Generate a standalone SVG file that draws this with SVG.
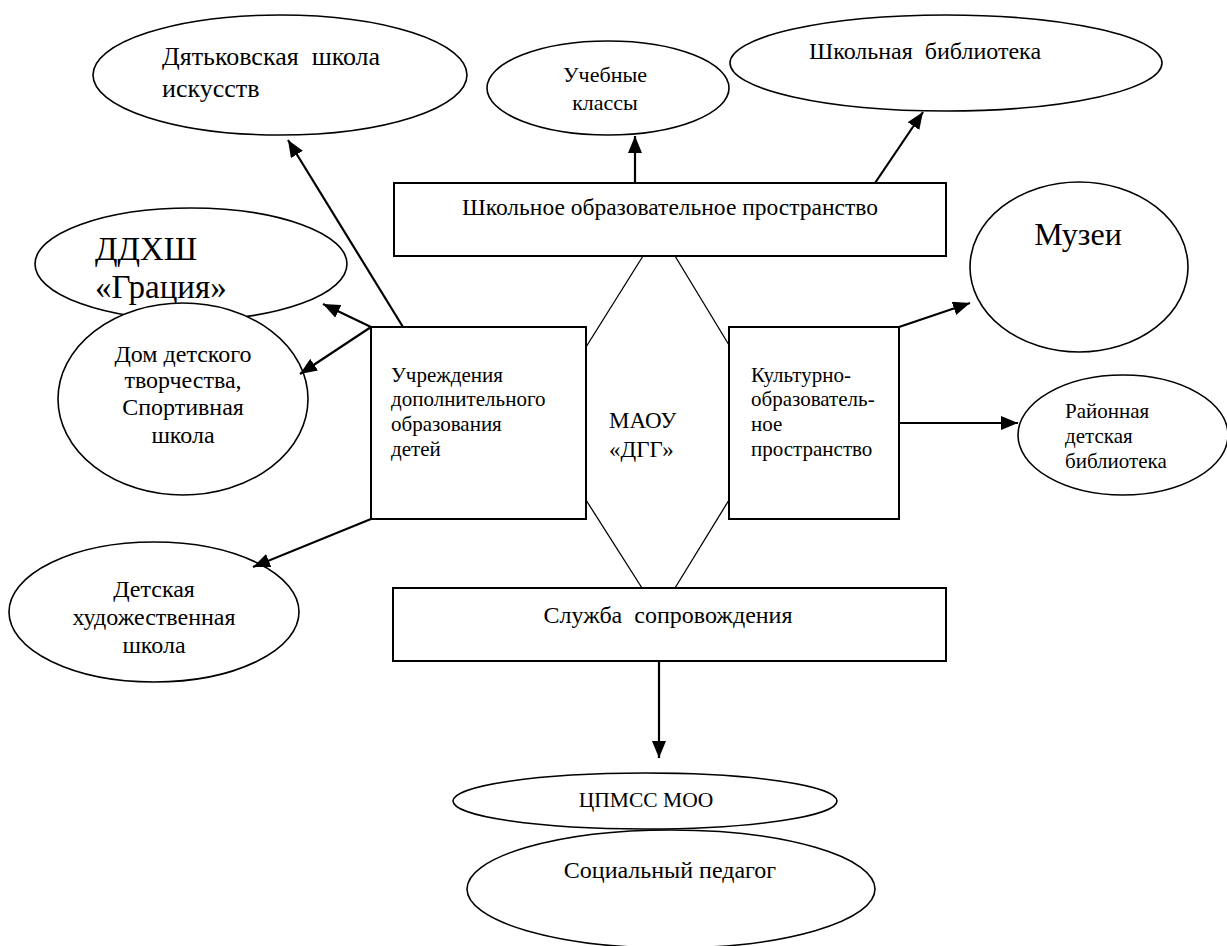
<svg xmlns="http://www.w3.org/2000/svg" width="1227" height="946" viewBox="0 0 1227 946">
<style>
  .el { fill: #fff; stroke: #000; stroke-width: 1.6; }
  .bx { fill: #fff; stroke: #000; stroke-width: 2; }
  .t { font-family: 'Liberation Serif', 'DejaVu Serif', serif; fill: #000; white-space: pre; }
  .arr { stroke: #000; stroke-width: 2.2; fill: none; marker-end: url(#ah); }
  .hex { stroke: #000; stroke-width: 1.3; fill: none; }
</style>
<defs>
  <marker id="ah" markerUnits="userSpaceOnUse" markerWidth="18" markerHeight="14" refX="17" refY="7" orient="auto">
    <path d="M0,0 L17,7 L0,14 z" fill="#000"/>
  </marker>
</defs>
<rect width="1227" height="946" fill="#fff"/>

<g id="n-dyatkovo">
  <ellipse class="el" cx="280" cy="75" rx="187" ry="60"/>
  <text class="t" font-family="Liberation Serif, serif" font-size="26" x="162" y="65">Дятьковская  школа</text>
  <text class="t" font-family="Liberation Serif, serif" font-size="26" x="162" y="97">искусств</text>
</g>
<g id="n-uchebnye">
  <ellipse class="el" cx="608" cy="88" rx="121" ry="47"/>
  <text class="t" font-family="Liberation Serif, serif" font-size="22" x="605" y="82" text-anchor="middle">Учебные</text>
  <text class="t" font-family="Liberation Serif, serif" font-size="22" x="605" y="110" text-anchor="middle">классы</text>
</g>
<g id="n-biblioteka">
  <ellipse class="el" cx="946" cy="63" rx="216" ry="48"/>
  <text class="t" font-family="Liberation Serif, serif" font-size="24" x="809" y="59">Школьная  библиотека</text>
</g>
<g id="n-shkolnoe">
  <rect class="bx" x="394" y="183" width="552" height="73"/>
  <text class="t" font-family="Liberation Serif, serif" font-size="23.5" x="670" y="215" text-anchor="middle">Школьное образовательное пространство</text>
</g>
<g id="n-ddhsh">
  <ellipse class="el" cx="191" cy="264" rx="156" ry="56"/>
  <text class="t" font-family="Liberation Serif, serif" font-size="33" x="95" y="260">ДДХШ</text>
  <text class="t" font-family="Liberation Serif, serif" font-size="33" x="95" y="298">«Грация»</text>
</g>
<g id="n-dom">
  <ellipse class="el" cx="183" cy="399" rx="125" ry="96"/>
  <text class="t" font-family="Liberation Serif, serif" font-size="24" x="183" y="362" text-anchor="middle">Дом детского</text>
  <text class="t" font-family="Liberation Serif, serif" font-size="24" x="183" y="388" text-anchor="middle">творчества,</text>
  <text class="t" font-family="Liberation Serif, serif" font-size="24" x="183" y="415" text-anchor="middle">Спортивная</text>
  <text class="t" font-family="Liberation Serif, serif" font-size="24" x="183" y="443" text-anchor="middle">школа</text>
</g>
<g id="n-muzei">
  <ellipse class="el" cx="1079" cy="267" rx="109" ry="85"/>
  <text class="t" font-family="Liberation Serif, serif" font-size="32" x="1078" y="245" text-anchor="middle">Музеи</text>
</g>
<g id="n-uchrezhdeniya">
  <rect class="bx" x="371" y="327" width="215" height="192"/>
  <text class="t" font-family="Liberation Serif, serif" font-size="21" x="391" y="382">Учреждения</text>
  <text class="t" font-family="Liberation Serif, serif" font-size="21" x="391" y="406">дополнительного</text>
  <text class="t" font-family="Liberation Serif, serif" font-size="21" x="391" y="431">образования</text>
  <text class="t" font-family="Liberation Serif, serif" font-size="21" x="391" y="456">детей</text>
</g>
<g id="n-maou">
  <line class="hex" x1="643" y1="256" x2="586" y2="347"/>
  <line class="hex" x1="675" y1="256" x2="729" y2="345"/>
  <line class="hex" x1="586" y1="500" x2="642" y2="588"/>
  <line class="hex" x1="729" y1="500" x2="675" y2="588"/>
  <text class="t" font-family="Liberation Serif, serif" font-size="23" x="609" y="428">МАОУ</text>
  <text class="t" font-family="Liberation Serif, serif" font-size="23" x="609" y="457">«ДГГ»</text>
</g>
<g id="n-kulturno">
  <rect class="bx" x="729" y="327" width="170" height="192"/>
  <text class="t" font-family="Liberation Serif, serif" font-size="21" x="751" y="382">Культурно-</text>
  <text class="t" font-family="Liberation Serif, serif" font-size="21" x="751" y="406">образователь-</text>
  <text class="t" font-family="Liberation Serif, serif" font-size="21" x="751" y="431">ное</text>
  <text class="t" font-family="Liberation Serif, serif" font-size="21" x="751" y="456">пространство</text>
</g>
<g id="n-rayonnaya">
  <ellipse class="el" cx="1123" cy="435" rx="105" ry="60"/>
  <text class="t" font-family="Liberation Serif, serif" font-size="21" x="1065" y="418">Районная</text>
  <text class="t" font-family="Liberation Serif, serif" font-size="21" x="1065" y="443">детская</text>
  <text class="t" font-family="Liberation Serif, serif" font-size="21" x="1065" y="468">библиотека</text>
</g>
<g id="n-detskaya">
  <ellipse class="el" cx="154" cy="612" rx="145" ry="70"/>
  <text class="t" font-family="Liberation Serif, serif" font-size="24" x="154" y="597" text-anchor="middle">Детская</text>
  <text class="t" font-family="Liberation Serif, serif" font-size="24" x="154" y="625" text-anchor="middle">художественная</text>
  <text class="t" font-family="Liberation Serif, serif" font-size="24" x="154" y="653" text-anchor="middle">школа</text>
</g>
<g id="n-sluzhba">
  <rect class="bx" x="393" y="588" width="553" height="73"/>
  <text class="t" font-family="Liberation Serif, serif" font-size="24" x="668" y="623" text-anchor="middle">Служба  сопровождения</text>
</g>
<g id="n-cpmss">
  <ellipse class="el" cx="645" cy="801" rx="192" ry="28"/>
  <text class="t" font-family="Liberation Serif, serif" font-size="21.5" x="646" y="807" text-anchor="middle">ЦПМСС МОО</text>
</g>
<g id="n-socped">
  <ellipse class="el" cx="671" cy="889" rx="204" ry="59"/>
  <text class="t" font-family="Liberation Serif, serif" font-size="24" x="670" y="878" text-anchor="middle">Социальный педагог</text>
</g>

<g id="connectors">
  <line class="arr" x1="403" y1="327" x2="288" y2="140"/>
  <line class="arr" x1="371" y1="327" x2="323" y2="304"/>
  <line class="arr" x1="371" y1="327" x2="300" y2="374"/>
  <line class="arr" x1="371" y1="519" x2="253" y2="567"/>
  <line class="arr" x1="635" y1="183" x2="635" y2="136"/>
  <line class="arr" x1="875" y1="183" x2="923" y2="112"/>
  <line class="arr" x1="899" y1="327" x2="970" y2="303"/>
  <line class="arr" x1="899" y1="423" x2="1018" y2="423"/>
  <line class="arr" x1="659" y1="661" x2="659" y2="758"/>
</g>
</svg>
